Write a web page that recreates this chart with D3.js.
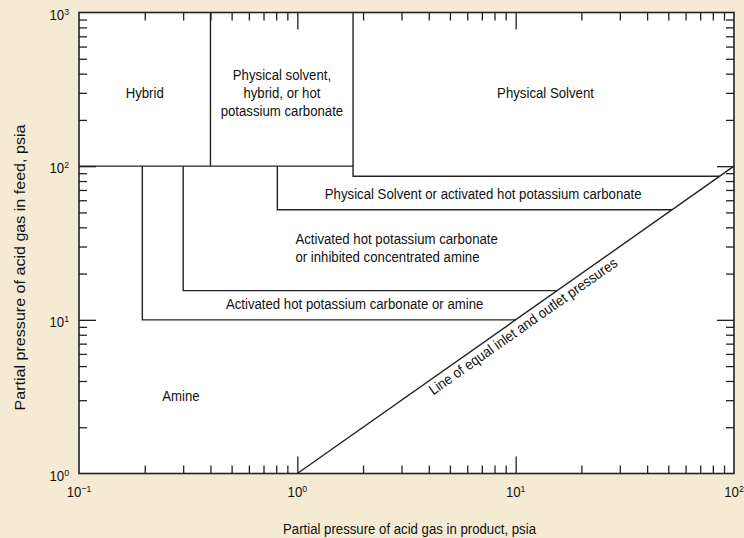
<!DOCTYPE html>
<html>
<head>
<meta charset="utf-8">
<script src="https://cdn.jsdelivr.net/npm/d3@7"></script>
<style>
  html, body { margin: 0; padding: 0; background: #f5ebd5; }
  svg { display: block; }
  text { font-family: "Liberation Sans", Arial, Helvetica, sans-serif; fill: #111111; }
</style>
</head>
<body>
<svg id="chart" width="744" height="538"></svg>
<script>
// Axis extents (psia) and decade labels
const xDomain = [0.1, 100];
const yDomain = [1, 1000];
const xTickPowers = [-1, 0, 1, 2];
const yTickPowers = [0, 1, 2, 3];

// Process-selection boundaries (psia)
const topBandFloor = 100;            // lower edge of the top band
const topBandDividers = [0.4, 1.8];  // product pressures splitting the top band
const physicalSolventFloor = 86;     // physical solvent region lower edge
const stepX = [0.81, 0.3, 0.195];    // product pressure where each step leaves the top band
const stepLevel = [52, 15.5, 10];    // feed pressure of each step's horizontal edge
const equalLine = [[1, 1], [100, 100]];

// Region names and their anchor points (product psia, feed psia)
const regionNames = [
  "Hybrid",
  "Physical solvent,\nhybrid, or hot\npotassium carbonate",
  "Physical Solvent",
  "Physical Solvent or activated hot potassium carbonate",
  "Activated hot potassium carbonate\nor inhibited concentrated amine",
  "Activated hot potassium carbonate or amine",
  "Amine"
];
const regionX = [0.2, 0.85, 13.7, 7.1, 0.98, 1.83, 0.293];
const regionY = [300, 300, 300, 66, 29.3, 12.7, 3.2];
const regionAlign = ["middle", "middle", "middle", "middle", "start", "middle", "middle"];
const diagonalText = "Line of equal inlet and outlet pressures";
const diagonalAt = 10.2;

const xTitle = "Partial pressure of acid gas in product, psia";
const yTitle = "Partial pressure of acid gas in feed, psia";

// ---- drawing ----
const svg = d3.select("#chart");
const plotL = 79, plotR = 734, plotT = 12.5, plotB = 473.5;
const x = d3.scaleLog().domain(xDomain).range([plotL, plotR]);
const y = d3.scaleLog().domain(yDomain).range([plotB, plotT]);

const FS = 14.5, SX = 0.91, INK = "#222222";

// condensed text helper: places text at (px,py), optional rotation
function ctext(g, px, py, str, anchor, opts = {}) {
  const rot = opts.rotate ? ` rotate(${opts.rotate})` : "";
  const sx = opts.sx || SX;
  return g.append("text")
    .attr("transform", `translate(${px},${py})${rot} scale(${sx},1)`)
    .attr("text-anchor", anchor)
    .attr("font-size", opts.size || FS)
    .text(str);
}

// plot background
svg.append("rect")
  .attr("x", plotL).attr("y", plotT)
  .attr("width", plotR - plotL).attr("height", plotB - plotT)
  .attr("fill", "#ffffff");

// ticks (inward, minor short / major long)
const allX = x.ticks().filter(v => v > xDomain[0] * 1.001 && v < xDomain[1] * 0.999);
const allY = y.ticks().filter(v => v > yDomain[0] * 1.001 && v < yDomain[1] * 0.999);
const isDecade = v => Math.abs(Math.log10(v) - Math.round(Math.log10(v))) < 1e-6;
const minorX = allX.filter(v => !isDecade(v)), majorX = allX.filter(isDecade);
const minorY = allY.filter(v => !isDecade(v)), majorY = allY.filter(isDecade);

function tickGroup(axis, tr, values, size) {
  svg.append("g")
    .attr("transform", tr)
    .call(axis.tickValues(values).tickSize(size).tickSizeOuter(0).tickFormat(""))
    .call(g => g.select(".domain").remove())
    .call(g => g.selectAll("line").attr("stroke", INK).attr("stroke-width", 1.3));
}
tickGroup(d3.axisTop(x), `translate(0,${plotB})`, minorX, 8);
tickGroup(d3.axisTop(x), `translate(0,${plotB})`, majorX, 17);
tickGroup(d3.axisBottom(x), `translate(0,${plotT})`, minorX, 8);
tickGroup(d3.axisBottom(x), `translate(0,${plotT})`, majorX, 17);
tickGroup(d3.axisRight(y), `translate(${plotL},0)`, minorY, 8);
tickGroup(d3.axisRight(y), `translate(${plotL},0)`, majorY, 17);
tickGroup(d3.axisLeft(y), `translate(${plotR},0)`, minorY, 8);
tickGroup(d3.axisLeft(y), `translate(${plotR},0)`, majorY, 17);

// region boundaries
const line = d3.line().x(d => x(d[0])).y(d => y(d[1]));
const bounds = svg.append("g").attr("fill", "none").attr("stroke", INK).attr("stroke-width", 1.4);
bounds.append("path").attr("d", line([[xDomain[0], topBandFloor], [topBandDividers[1], topBandFloor]]));
bounds.append("path").attr("d", line([[topBandDividers[0], yDomain[1]], [topBandDividers[0], topBandFloor]]));
bounds.append("path").attr("d", line([
  [topBandDividers[1], yDomain[1]],
  [topBandDividers[1], physicalSolventFloor],
  [physicalSolventFloor, physicalSolventFloor]
]));
stepX.forEach((sx, i) => {
  bounds.append("path").attr("d", line([
    [sx, topBandFloor], [sx, stepLevel[i]], [stepLevel[i], stepLevel[i]]
  ]));
});
bounds.append("path").attr("d", line(equalLine));

// frame
svg.append("rect")
  .attr("x", plotL).attr("y", plotT)
  .attr("width", plotR - plotL).attr("height", plotB - plotT)
  .attr("fill", "none").attr("stroke", INK).attr("stroke-width", 1.6);

// region labels
const lineH = 18.3;
regionNames.forEach((name, i) => {
  const rows = name.split("\n");
  const cx = x(regionX[i]), cy = y(regionY[i]);
  rows.forEach((r, k) => {
    const py = cy + (k - (rows.length - 1) / 2) * lineH + 5;
    ctext(svg, cx, py, r, regionAlign[i]);
  });
});

// label along the equal-pressure line
{
  const p0 = [x(equalLine[0][0]), y(equalLine[0][1])];
  const p1 = [x(equalLine[1][0]), y(equalLine[1][1])];
  const ang = Math.atan2(p1[1] - p0[1], p1[0] - p0[0]) * 180 / Math.PI;
  const px = x(diagonalAt), py = y(diagonalAt);
  const off = 14.5;
  const rad = ang * Math.PI / 180;
  const nx = -Math.sin(rad) * off, ny = Math.cos(rad) * off;
  ctext(svg, px + nx, py + ny, diagonalText, "middle", { rotate: ang });
}

// decade labels with superscript exponents
function powerLabel(px, py, p, anchor) {
  const t = ctext(svg, px, py, "", anchor, { size: FS });
  t.append("tspan").text("10");
  t.append("tspan").attr("font-size", 9.5).attr("dy", -5).text(String(p).replace("-", "\u2212"));
  return t;
}
yTickPowers.forEach(p => powerLabel(69, y(Math.pow(10, p)) + 7, p, "end"));
xTickPowers.forEach(p => powerLabel(x(Math.pow(10, p)), 497, p, "middle"));

// axis titles
ctext(svg, 409.5, 534, xTitle, "middle");
ctext(svg, 25, 267.5, yTitle, "middle", { rotate: -90, sx: 1.11 });
</script>
</body>
</html>
